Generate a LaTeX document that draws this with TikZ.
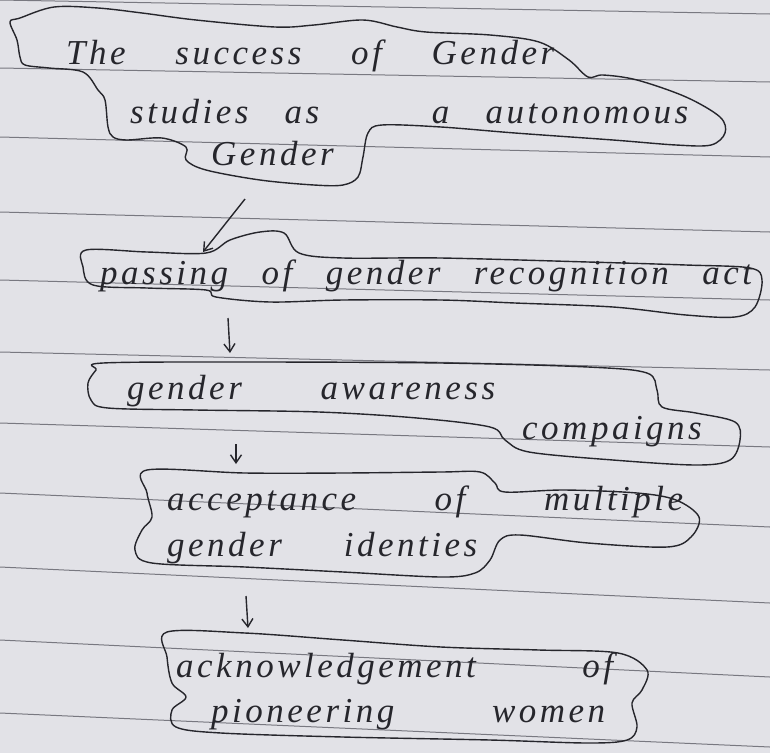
\documentclass[tikz,border=0pt]{standalone}
\usepackage{fontspec}
\newfontfamily\handfont{Liberation Serif}[LetterSpace=10]
\usetikzlibrary{arrows.meta}
\definecolor{paper}{RGB}{226,226,231}
\definecolor{rule}{RGB}{120,120,128}
\definecolor{ink}{RGB}{38,38,44}
\newcommand{\wline}[2]{\makebox[#1][s]{#2}}

\begin{document}
\begin{tikzpicture}[x=1pt, y=-1pt]
  \tikzset{
    hand/.style={anchor=west, inner sep=0pt, text=ink, font={\handfont\itshape\fontsize{35}{40}\selectfont}},
    cloud/.style={draw=ink, line width=1.4pt, line join=round},
    ruling/.style={draw=rule, line width=1pt},
    flow/.style={draw=ink, line width=1.4pt, -{Straight Barb[length=8pt, width=11pt]}}
  }
  \useasboundingbox (0,0) rectangle (770,753);
  \fill[paper] (0,0) rectangle (770,753);

  % ruled lines of the notebook page
  \foreach \l/\r in {0/14, 68/82, 137/157, 212/232, 280/300, 352/370, 423/447, 493/527, 567/603, 640/677, 713/747}
    \draw[ruling] (0,\l) -- (770,\r);

  % texts
  \node[hand] (s1) at (66,56)  {\wline{488pt}{The success of Gender}};
  \node[hand] (s2) at (130,112) {\wline{558pt}{studies as \hspace{40pt} a autonomous}};
  \node[hand] (s3) at (211,154) {\wline{134pt}{Gender}};
  \node[hand] (p1) at (100,276) {\wline{652pt}{passing of gender recognition act}};
  \node[hand] (g1) at (127,391) {\wline{368pt}{gender awareness}};
  \node[hand] (g2) at (522,432) {\wline{208pt}{compaigns}};
  \node[hand] (m1) at (167,502) {\wline{516pt}{acceptance of multiple}};
  \node[hand] (m2) at (167,548) {\wline{310pt}{gender identies}};
  \node[hand] (w1) at (176,669) {\wline{437pt}{acknowledgement of}};
  \node[hand] (w2) at (211,715) {\wline{394pt}{pioneering women}};

  % outlines
  \draw[cloud] plot[smooth cycle, tension=0.55] coordinates {(10,22) (20,18) (54,7) (98,8) (142,13) (196,20) (275,27) (314,25) (363,20) (397,27) (426,32) (490,35) (539,42) (569,60) (588,77) (603,75) (637,80) (686,97) (720,117) (725,133) (711,145) (676,145) (613,140) (515,133) (441,127) (382,125) (368,133) (363,157) (358,177) (343,185) (314,185) (260,180) (206,170) (186,160) (186,147) (162,138) (127,140) (113,137) (108,127) (105,100) (98,90) (83,72) (49,68) (25,65) (20,57) (17,40)};
  \draw[cloud] plot[smooth cycle, tension=0.55] coordinates {(86,250) (147,252) (206,253) (230,240) (260,232) (284,233) (299,253) (343,258) (441,258) (588,262) (686,265) (750,268) (762,280) (755,307) (735,317) (686,315) (613,307) (515,303) (441,300) (343,300) (270,302) (216,297) (206,290) (147,288) (93,285) (83,267)};
  \draw[cloud] plot[smooth cycle, tension=0.55] coordinates {(103,363) (245,362) (441,363) (588,367) (647,373) (657,390) (662,407) (696,413) (735,422) (740,440) (730,460) (696,465) (613,460) (529,452) (505,440) (490,427) (417,418) (319,412) (196,410) (108,408) (91,400) (88,383) (96,370)};
  \draw[cloud] plot[smooth cycle, tension=0.55] coordinates {(147,470) (245,473) (343,473) (441,472) (480,472) (495,483) (505,492) (564,490) (637,493) (676,500) (699,517) (691,537) (667,547) (588,543) (520,535) (500,540) (490,560) (475,573) (441,577) (343,572) (245,567) (152,563) (135,550) (142,530) (152,517) (147,493)};
  \draw[cloud] plot[smooth cycle, tension=0.55] coordinates {(167,632) (245,633) (343,640) (441,647) (539,650) (618,653) (647,670) (642,690) (632,703) (637,727) (627,740) (588,743) (490,740) (343,737) (221,733) (176,727) (172,710) (186,697) (172,683) (167,657)};

  % arrows
  \coordinate (a1s) at (245,199);
  \coordinate (a1e) at (203,252);
  \coordinate (a2s) at (228,318);
  \coordinate (a2e) at (230,353);
  \coordinate (a3s) at (236,444);
  \coordinate (a3e) at (236,464);
  \coordinate (a4s) at (246,596);
  \coordinate (a4e) at (248,628);
  \draw[flow] (a1s) -- (a1e);
  \draw[flow] (a2s) -- (a2e);
  \draw[flow] (a3s) -- (a3e);
  \draw[flow] (a4s) -- (a4e);
\end{tikzpicture}
\end{document}
